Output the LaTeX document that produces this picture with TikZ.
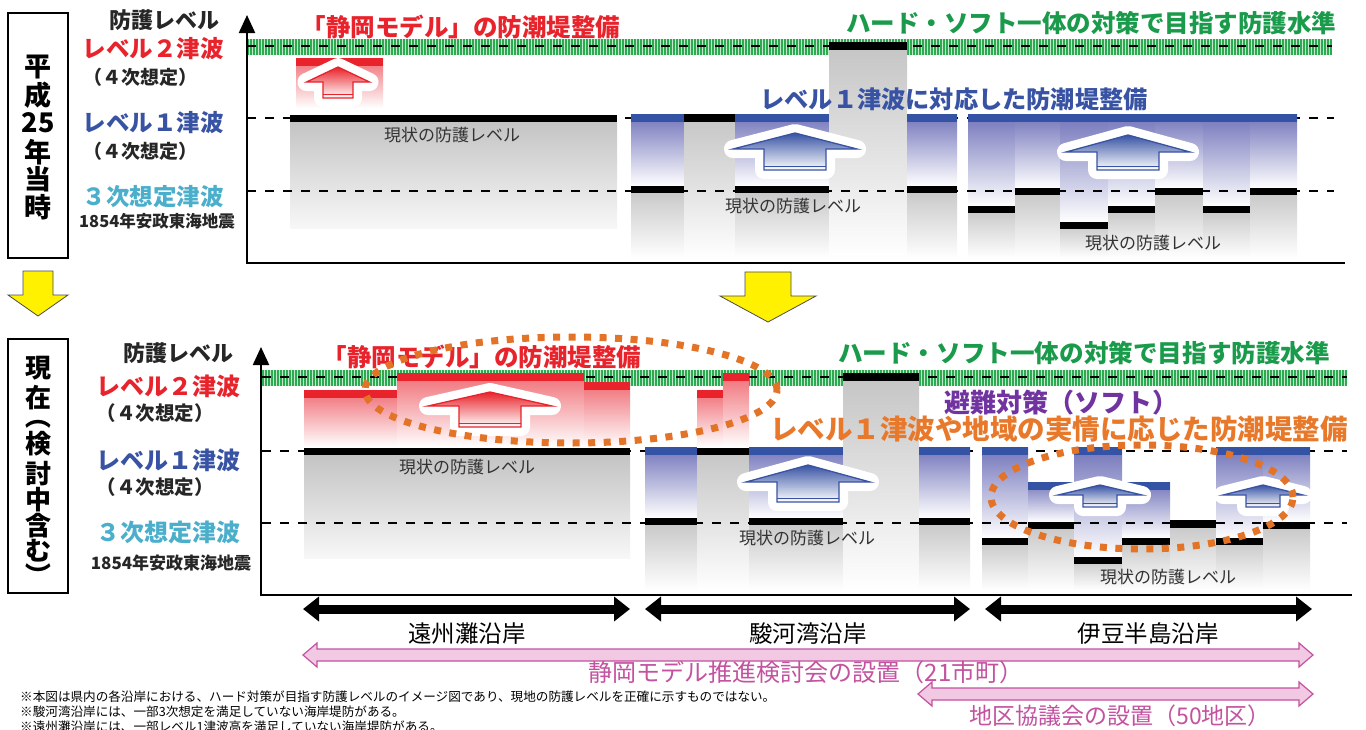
\documentclass[tikz,border=0pt]{standalone}
\usepackage{fontspec}
\setmainfont{Noto Sans CJK JP}
\usetikzlibrary{arrows.meta}
\definecolor{cred}{HTML}{E8232B}
\definecolor{cblue}{HTML}{3853A4}
\definecolor{ccyan}{HTML}{4BAFCB}
\definecolor{cgreen}{HTML}{1A9B4B}
\definecolor{cpurple}{HTML}{7133A0}
\definecolor{corange}{HTML}{E8782A}
\definecolor{cdots}{HTML}{E37326}
\definecolor{cpink}{HTML}{C352A0}
\definecolor{pinkfill}{HTML}{F2C9E3}
\definecolor{bbar}{HTML}{3453A5}
\definecolor{bgrad}{HTML}{7274BA}
\definecolor{ggrad}{HTML}{C4C4C4}
\definecolor{rgrad}{HTML}{EF6C74}
\definecolor{cyellow}{HTML}{FFF100}
\definecolor{bandlight}{HTML}{C4EACB}
\definecolor{bandgreen}{HTML}{2BAA52}
\newcommand\fsz[1]{\fontsize{#1}{#1}\selectfont}
% blue column: x1 x2 ytop ybar ybot
\newcommand\bcol[5]{%
  \path[top color=bgrad, bottom color=white] (#1,#3) rectangle (#2,#4);
  \fill[bbar] (#1,#3) rectangle (#2,{#3+8});
  \path[top color=ggrad, bottom color=white] (#1,#4) rectangle (#2,#5);
  \fill[black] (#1,#4) rectangle (#2,{#4+7});
}
% gray column: x1 x2 ybar ybot
\newcommand\gcol[4]{%
  \path[top color=ggrad, bottom color=white] (#1,#3) rectangle (#2,#4);
  \fill[black] (#1,#3) rectangle (#2,{#3+8});
}
% red block: x1 x2 ytop ybot
\newcommand\rcol[4]{%
  \path[top color=rgrad, bottom color=white] (#1,#3) rectangle (#2,#4);
  \fill[cred] (#1,#3) rectangle (#2,{#3+8});
}
% arrow path: cx ybase W w h L style
\newcommand\harrowp[7]{%
  \path[#7] ({#1-#3},#2) -- (#1,{#2-#5}) -- ({#1+#3},#2) -- ({#1+#4},#2) -- ({#1+#4},{#2+#6}) -- ({#1-#4},{#2+#6}) -- ({#1-#4},#2) -- cycle;
}
\newcommand\harrow[7]{%
  \harrowp{#1}{#2}{#3}{#4}{#5}{#6}{fill=white, draw=white, line width=18pt, line join=round}
  \harrowp{#1}{#2}{#3}{#4}{#5}{#6}{top color=#7, bottom color=white}
  \harrowp{#1}{#2}{#3}{#4}{#5}{#6}{draw=#7, line width=1.3pt, line join=miter}
  \draw[#7, line width=1pt] ({#1-#4},{#2+#6-4}) -- ({#1+#4},{#2+#6-4});
}
% hollow double arrow: x1 x2 y
\newcommand\pinkarrow[3]{%
  \filldraw[fill=pinkfill, draw=cpink, line width=1.2pt, line join=miter]
    (#1,#3) -- ({#1+14},{#3-12}) -- ({#1+14},{#3-6}) -- ({#2-14},{#3-6}) -- ({#2-14},{#3-12}) -- (#2,#3)
    -- ({#2-14},{#3+12}) -- ({#2-14},{#3+6}) -- ({#1+14},{#3+6}) -- ({#1+14},{#3+12}) -- cycle;
}
\tikzset{
  lbl/.style={font=\fsz{23.5}\bfseries, inner sep=0pt},
  sub/.style={font=\fsz{19}\bfseries, inner sep=0pt, text=black!85},
  head/.style={font=\fsz{24.5}\bfseries, inner sep=0pt},
  cur/.style={font=\fsz{17}, inner sep=0pt, text=black!80},
  vt/.style={font=\fsz{27}\bfseries, inner sep=0pt},
  lvl/.style={line width=2.6pt, dash pattern=on 9pt off 9pt},
  axisl/.style={line width=2.2pt},
  band/.style={line width=16pt, dash pattern=on 1.5pt off 1.5pt, bandgreen},
  dots/.style={cdots, line width=7pt, dash pattern=on 7pt off 8.5pt},
  sect/.style={line width=9pt, {Triangle[width=24pt,length=16pt]}-{Triangle[width=24pt,length=16pt]}},
  seclbl/.style={font=\fsz{23.5}, inner sep=0pt},
  pinklbl/.style={font=\fsz{24}, inner sep=0pt, text=cpink},
  note/.style={font=\fsz{12.6}, inner sep=0pt, anchor=west}
}
\begin{document}
\begin{tikzpicture}[x=1pt,y=-1pt]
\useasboundingbox (0,0) rectangle (1366,729);
\fill[white] (0,0) rectangle (1366,729);

%================ TOP PANEL ================
\draw[line width=1.8pt] (8,13) rectangle (68,258);
\node[vt] (v1) at (38,67) {平};
\node[vt] (v2) at (38,95) {成};
\node[vt] (v3) at (38,123) {25};
\node[vt] (v4) at (38,152) {年};
\node[vt] (v5) at (38,179) {当};
\node[vt] (v6) at (38,207) {時};

\node[lbl, font=\fsz{22}\bfseries, text=black!85] (ta) at (164,20) {防護レベル};
\node[lbl, text=cred] (tb) at (153,49) {レベル２津波};
\node[sub] (tc) at (140,77) {（４次想定）};
\node[lbl, text=cblue] (td) at (153,123) {レベル１津波};
\node[sub] (te) at (140,151) {（４次想定）};
\node[lbl, text=ccyan] (tf) at (153,197) {３次想定津波};
\node[lbl, font=\fsz{16.5}\bfseries, text=black!85] (tg) at (157,221) {1854年安政東海地震};

% band
\fill[bandlight] (247,39) rectangle (1332,55);
\draw[band] (247,47) -- (1332,47);
\draw[lvl] (247,46) -- (1332,46);
\draw[lvl] (247,118) -- (1334,118);

% Enshu
\path[top color=ggrad, bottom color=black!3] (290,122) rectangle (617,228);
\fill[black] (290,115) rectangle (617,122);
\rcol{296}{383}{58}{108}
% Suruga
\bcol{631}{684}{114}{186}{258}
\gcol{684}{735}{114}{258}
\bcol{735}{829}{114}{186}{258}
\gcol{829}{907}{42}{258}
\bcol{907}{957}{114}{186}{258}
% Izu
\bcol{968}{1015}{114}{206}{258}
\bcol{1015}{1060}{114}{188}{258}
\bcol{1060}{1108}{114}{222}{258}
\bcol{1108}{1155}{114}{206}{258}
\bcol{1155}{1203}{114}{188}{258}
\bcol{1203}{1250}{114}{206}{258}
\bcol{1250}{1297}{114}{188}{258}

\draw[lvl] (247,191) -- (1334,191);

\harrow{338}{82}{31.5}{15}{15}{16}{cred}
\harrow{795}{149}{62}{31}{16}{21}{cblue}
\harrow{1128}{152}{62}{31}{17}{18}{cblue}

\node[cur] (c1) at (452,135) {現状の防護レベル};
\node[cur] (c2) at (793,206) {現状の防護レベル};
\node[cur] (c3) at (1153,243) {現状の防護レベル};

\node[head, text=cred] (h1) at (461,27) {「静岡モデル」の防潮堤整備};
\node[head, text=cgreen] (h2) at (1091,23) {ハード・ソフト一体の対策で目指す防護水準};
\node[head, font=\fsz{24.2}\bfseries, text=cblue] (h3) at (954,99) {レベル１津波に対応した防潮堤整備};

\draw[axisl, -{Triangle[width=16pt,length=18pt]}] (247,264) -- (247,15);
\draw[axisl] (246,263) -- (1345,263);

% yellow arrows
\filldraw[fill=cyellow, draw=black!70, line width=0.8pt, line join=miter] (23,271) -- (53,271) -- (53,295) -- (68,295) -- (38,316) -- (8,295) -- (23,295) -- cycle;
\filldraw[fill=cyellow, draw=black!70, line width=0.8pt, line join=miter] (745,272) -- (791,272) -- (791,296) -- (816,296) -- (768,322) -- (720,296) -- (745,296) -- cycle;

%================ BOTTOM PANEL ================
\draw[line width=1.8pt] (8,339) rectangle (68,593);
\node[vt, font=\fsz{26}\bfseries] (w1) at (38,368) {現};
\node[vt, font=\fsz{26}\bfseries] (w2) at (38,398) {在};
\node[vt, font=\fsz{26}\bfseries, rotate=-90] (w3) at (38,416) {（};
\node[vt, font=\fsz{26}\bfseries] (w4) at (38,444) {検};
\node[vt, font=\fsz{26}\bfseries] (w5) at (38,474) {討};
\node[vt, font=\fsz{26}\bfseries] (w6) at (38,500) {中};
\node[vt, font=\fsz{26}\bfseries] (w7) at (38,526) {含};
\node[vt, font=\fsz{26}\bfseries] (w8) at (38,551) {む};
\node[vt, font=\fsz{26}\bfseries, rotate=-90] (w9) at (38,575) {）};

\node[lbl, font=\fsz{22}\bfseries, text=black!85] (ba) at (178,353) {防護レベル};
\node[lbl, font=\fsz{24}\bfseries, text=cred] (bb) at (168,386) {レベル２津波};
\node[sub, font=\fsz{19.5}\bfseries] (bc) at (155,413) {（４次想定）};
\node[lbl, font=\fsz{24}\bfseries, text=cblue] (bd) at (168,460) {レベル１津波};
\node[sub, font=\fsz{19.5}\bfseries] (be) at (155,487) {（４次想定）};
\node[lbl, font=\fsz{24}\bfseries, text=ccyan] (bf) at (168,532) {３次想定津波};
\node[lbl, font=\fsz{17}\bfseries, text=black!85] (bg) at (171,563) {1854年安政東海地震};

\fill[bandlight] (262,370) rectangle (1347,386);
\draw[band] (262,378) -- (1347,378);
\draw[lvl] (262,377) -- (1347,377);
\draw[lvl] (262,451) -- (1347,451);

% Enshu
\path[top color=ggrad, bottom color=black!3] (304,455) rectangle (630,558);
\fill[black] (304,447) rectangle (630,455);
\rcol{304}{397}{390}{447}
\rcol{397}{584}{373}{447}
\rcol{584}{630}{382}{447}
% Suruga
\bcol{645}{697}{447}{518}{590}
\gcol{697}{749}{447}{590}
\rcol{697}{723}{390}{447}
\rcol{723}{749}{373}{447}
\bcol{749}{843}{447}{518}{590}
\gcol{843}{919}{373}{590}
\bcol{919}{970}{447}{518}{590}
% Izu
\bcol{982}{1028}{447}{538}{590}
\bcol{1028}{1074}{482}{522}{590}
\bcol{1074}{1122}{447}{557}{590}
\bcol{1122}{1170}{482}{538}{590}
\gcol{1170}{1216}{520}{590}
\bcol{1216}{1263}{447}{538}{590}
\bcol{1263}{1310}{447}{522}{590}

\draw[lvl] (262,523) -- (1347,523);

\harrow{490}{406}{62}{31}{14}{21}{cred}
\harrow{808}{482}{62}{31}{17}{20}{cblue}
\harrow{1100}{495}{42}{17}{10}{12}{cblue}
\harrow{1263}{495}{40}{17}{10}{12}{cblue}

\node[cur] (d1) at (467,467) {現状の防護レベル};
\node[cur] (d2) at (807,538) {現状の防護レベル};
\node[cur] (d3) at (1168,577) {現状の防護レベル};

\node[head, text=cred] (k1) at (482,357) {「静岡モデル」の防潮堤整備};
\node[head, font=\fsz{24.6}\bfseries, text=cgreen] (k2) at (1084,353) {ハード・ソフト一体の対策で目指す防護水準};
\node[head, font=\fsz{26}\bfseries, text=cpurple] (k3) at (1061,403) {避難対策（ソフト）};
\node[head, font=\fsz{27.5}\bfseries, text=corange] (k4) at (1059,429) {レベル１津波や地域の実情に応じた防潮堤整備};

\draw[dots] (571,390) ellipse [x radius=206pt, y radius=53pt];
\draw[dots] (1142,497) ellipse [x radius=151pt, y radius=52pt];

\draw[axisl, -{Triangle[width=16pt,length=18pt]}] (261,596) -- (261,347);
\draw[axisl] (260,595) -- (1352,595);

%================ SECTIONS ================
\coordinate (e1) at (303,609); \coordinate (e2) at (630,609);
\coordinate (s1) at (645,609); \coordinate (s2) at (970,609);
\coordinate (i1) at (985,609); \coordinate (i2) at (1312,609);
\draw[sect] (e1) -- (e2);
\draw[sect] (s1) -- (s2);
\draw[sect] (i1) -- (i2);
\node[seclbl] (n1) at (467,634) {遠州灘沿岸};
\node[seclbl] (n2) at (808,634) {駿河湾沿岸};
\node[seclbl] (n3) at (1148,634) {伊豆半島沿岸};

\pinkarrow{303}{1313}{655}
\node[pinklbl] (p1) at (806,672) {静岡モデル推進検討会の設置（21市町）};
\pinkarrow{918}{1313}{694}
\node[pinklbl, font=\fsz{23}] (p2) at (1120,716) {地区協議会の設置（50地区）};

\node[note] (f1) at (20,697) {※本図は県内の各沿岸における、ハード対策が目指す防護レベルのイメージ図であり、現地の防護レベルを正確に示すものではない。};
\node[note] (f2) at (20,712) {※駿河湾沿岸には、一部3次想定を満足していない海岸堤防がある。};
\node[note] (f3) at (20,727) {※遠州灘沿岸には、一部レベル1津波高を満足していない海岸堤防がある。};
\end{tikzpicture}
\end{document}
